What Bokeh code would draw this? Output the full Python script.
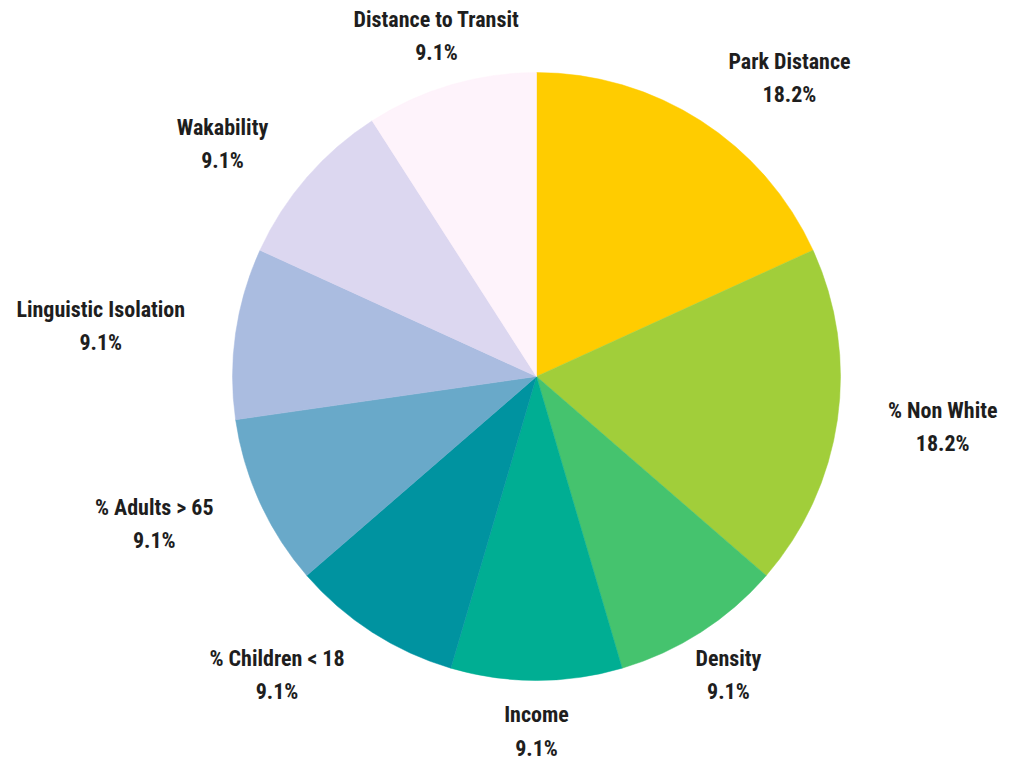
import math
from bokeh.plotting import figure
from bokeh.models import ColumnDataSource, Range1d
from bokeh.core.properties import value
from bokeh.embed import file_html
from bokeh.resources import INLINE

# ---- data ----
categories = ["Park Distance", "% Non White", "Density", "Income", "% Children < 18",
              "% Adults > 65", "Linguistic Isolation", "Wakability", "Distance to Transit"]
shares = [18.2, 18.2, 9.1, 9.1, 9.1, 9.1, 9.1, 9.1, 9.1]
colors = ["#FFCC00", "#A1CE3A", "#45C36E", "#00AE93", "#0093A0",
          "#69A9C9", "#AABCE0", "#DCD7F0", "#FEF3FB"]

# ---- layout / style ----
W, H = 1013, 761
CX, CY = 536, H - 376
R = 304
R_LABEL = 355
FONT = "Roboto Condensed, Liberation Sans Narrow, DejaVu Sans Condensed, sans-serif"
FONT_SIZE = "22px"
anchors = ["center_left", "center_left", "center", "center", "center_right",
           "center_right", "center_right", "center_right", "center"]

total = sum(shares)
starts, ends, mids = [], [], []
a = math.pi / 2
for s in shares:
    da = 2 * math.pi * s / total
    starts.append(a)
    ends.append(a - da)
    mids.append(a - da / 2)
    a -= da

src = ColumnDataSource(dict(start=starts, end=ends, color=colors,
                            x=[CX] * len(shares), y=[CY] * len(shares)))

p = figure(width=W, height=H, output_backend="svg", toolbar_location=None,
           x_range=Range1d(0, W), y_range=Range1d(0, H), min_border=0,
           background_fill_color="white", border_fill_color="white")
p.axis.visible = False
p.grid.visible = False
p.outline_line_color = None

p.wedge(x="x", y="y", radius=R, start_angle="end", end_angle="start",
        fill_color="color", line_color="color", line_width=0.5, source=src)

for anc in ["center_left", "center", "center_right"]:
    xs, ys, ts = [], [], []
    for cat, s, m, al in zip(categories, shares, mids, anchors):
        if al != anc:
            continue
        xs.append(CX + R_LABEL * math.cos(m))
        ys.append(CY + R_LABEL * math.sin(m))
        ts.append(f"{cat}\n{s:.1f}%")
    lsrc = ColumnDataSource(dict(x=xs, y=ys, t=ts))
    p.text(x="x", y="y", text="t", source=lsrc, anchor=anc, text_align="center",
           text_baseline="middle", text_line_height=1.34,
           text_font=value(FONT), text_font_size=FONT_SIZE,
           text_font_style="bold", text_color="#1e1e1e")

open("out.html", "w").write(file_html(p, INLINE))
